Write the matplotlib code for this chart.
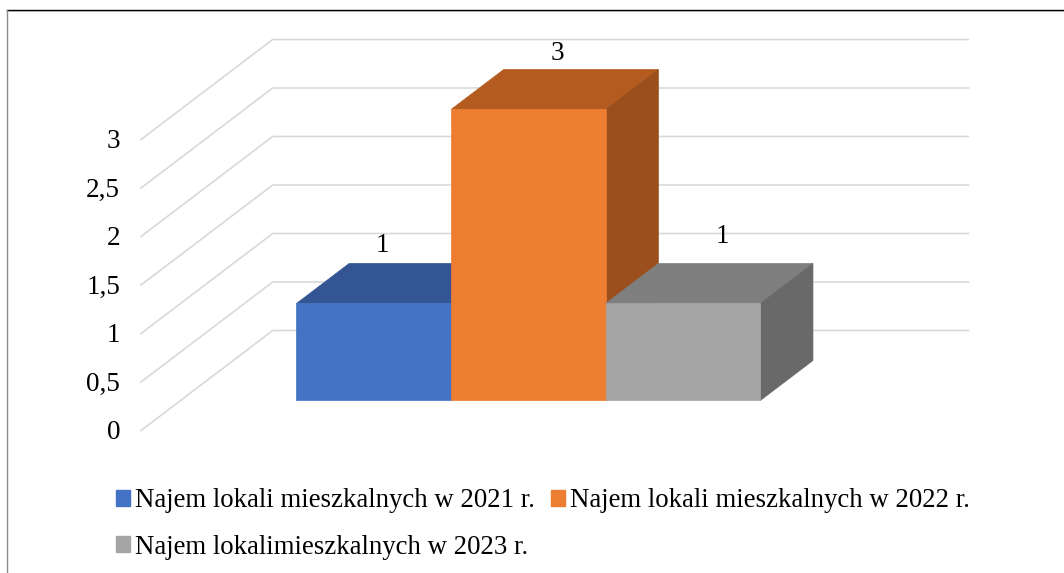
import matplotlib
matplotlib.use("Agg")
import matplotlib.pyplot as plt
from matplotlib.lines import Line2D
from matplotlib.patches import Patch, Polygon

plt.rcParams["font.family"] = ["Liberation Serif", "DejaVu Serif"]

# dane
serie = ["Najem lokali mieszkalnych w 2021 r.",
         "Najem lokali mieszkalnych w 2022 r.",
         "Najem lokalimieszkalnych w 2023 r."]
wartosci = [1, 3, 1]
etykiety = ["1", "3", "1"]
os_y = [0, 0.5, 1, 1.5, 2, 2.5, 3]
os_y_tekst = ["0", "0,5", "1", "1,5", "2", "2,5", "3"]

# kolory: przod, gora, bok
kolory = [("#4472C4", "#335593", "#2F5089"),
          ("#ED7D31", "#B45C20", "#9A4F1C"),
          ("#A5A5A5", "#7F7F7F", "#696969")]

# przesuniecia etykiet w pikselach
przesuniecia = [(-18, 38), (3, 36), (13, 47)]

# rzut ukosny 3D
GLEB_X = 0.852
GLEB_Y = 1.031
SZER = 4.5


def rzut(x, v, d):
    return (x + d * GLEB_X, v + d * GLEB_Y)


fig = plt.figure(figsize=(10.64, 5.73), dpi=100, facecolor="white")
ax = fig.add_axes([0, 0, 1, 1])
skala_x = 154.6
skala_y = 97.0
ax.set_xlim(-141 / skala_x, (1064 - 141) / skala_x)
ax.set_ylim((430.5 - 573) / skala_y, 430.5 / skala_y)
ax.axis("off")

# siatka
for v in os_y:
    p = [rzut(0, v, 0), rzut(0, v, 1), rzut(SZER, v, 1)]
    ax.plot([q[0] for q in p], [q[1] for q in p], color="#D9D9D9", lw=1.2, zorder=1)

# opisy osi
for v, t in zip(os_y, os_y_tekst):
    ax.annotate(t, xy=(0, v), xytext=(-21, -2), textcoords="offset pixels",
                ha="right", va="center", fontsize=19.5, color="black")

# slupki
for i, w in enumerate(wartosci):
    x0 = 0.75 + i
    x1 = x0 + 1
    d0 = 0.3
    d1 = 0.7
    przod, gora, bok = kolory[i]
    ax.add_patch(Polygon([rzut(x0, w, d0), rzut(x1, w, d0), rzut(x1, w, d1), rzut(x0, w, d1)],
                         fc=gora, ec=gora, lw=0.5, zorder=2 + i))
    ax.add_patch(Polygon([rzut(x1, 0, d0), rzut(x1, w, d0), rzut(x1, w, d1), rzut(x1, 0, d1)],
                         fc=bok, ec=bok, lw=0.5, zorder=2 + i))
    ax.add_patch(Polygon([rzut(x0, 0, d0), rzut(x1, 0, d0), rzut(x1, w, d0), rzut(x0, w, d0)],
                         fc=przod, ec=przod, lw=0.5, zorder=2 + i))
    ax.annotate(etykiety[i], xy=rzut(x0 + 0.5, w, 0.5), xytext=przesuniecia[i],
                textcoords="offset pixels", ha="center", va="center",
                fontsize=19.5, color="black", zorder=10)

# legenda
uchwyty = [Patch(color=kolory[k][0]) for k in (0, 2, 1)]
opisy = [serie[k] for k in (0, 2, 1)]
fig.legend(uchwyty, opisy, loc="upper left", bbox_to_anchor=(0.109, 0.148), ncol=2,
           frameon=False, fontsize=19.3, handlelength=0.525, handleheight=0.525,
           handletextpad=0.19, columnspacing=0.6, labelspacing=0.8,
           borderpad=0, borderaxespad=0)

# ramka
fig.add_artist(Line2D([7 / 1064, 1], [1 - 10.5 / 573, 1 - 10.5 / 573], color="#D0D0D0", lw=1.2))
fig.add_artist(Line2D([7 / 1064, 1], [1 - 9.5 / 573, 1 - 9.5 / 573], color="black", lw=1))
fig.add_artist(Line2D([7 / 1064, 7 / 1064], [0, 1 - 10 / 573], color="#8C8C8C", lw=1))

fig.savefig("out.png", dpi=100)
